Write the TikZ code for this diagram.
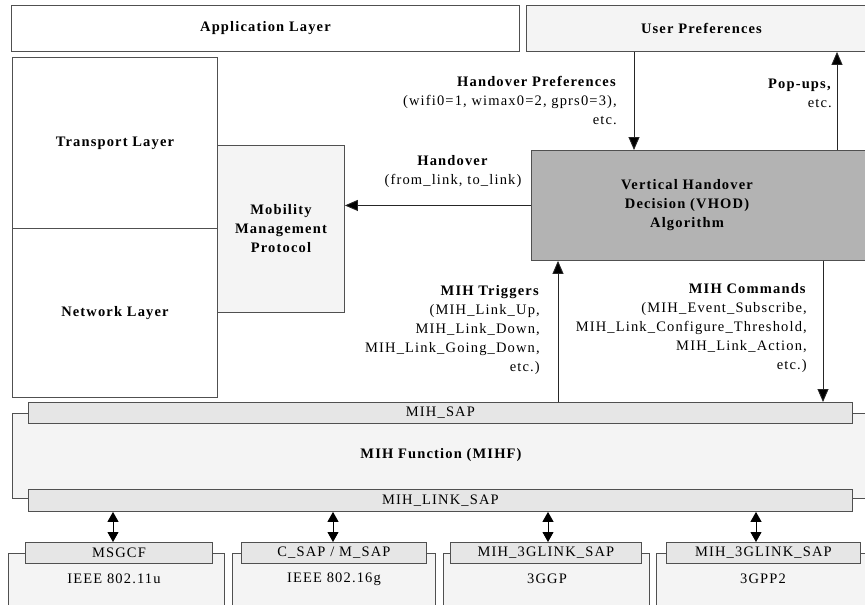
\documentclass[tikz,border=0pt]{standalone}
\usepackage{fontspec}
\setmainfont{Liberation Serif}[LetterSpace=8]
\usetikzlibrary{arrows.meta}
\definecolor{lineg}{HTML}{505050}
\definecolor{lightf}{HTML}{F4F4F4}
\definecolor{sapf}{HTML}{E6E6E6}
\definecolor{vhodf}{HTML}{B3B3B3}
\begin{document}
\begin{tikzpicture}[x=1pt,y=-1pt,
  txt/.style={font=\fontsize{14.5}{19}\selectfont, inner sep=0pt},
  box/.style={draw=lineg, line width=0.9pt, inner sep=0pt, anchor=north west, txt},
  bfont/.style={font=\fontsize{14.5}{19}\selectfont\bfseries},
  conn/.style={line width=0.9pt, draw=black!85, -{Triangle[length=13pt,width=11pt,fill=black]}},
  bidir/.style={line width=0.9pt, draw=black, {Triangle[length=10pt,width=11pt]}-{Triangle[length=10pt,width=11pt]}}
]
\useasboundingbox (0,0) rectangle (865,605);
\clip (0,0) rectangle (865,605);
\fill[white] (0,0) rectangle (865,605);

% top row
\node[box, fill=white, minimum width=508pt, minimum height=46pt, bfont] (app) at (11,5) {Application Layer};
\node[box, fill=lightf, minimum width=350pt, minimum height=46pt, bfont] (upref) at (526,5) {User Preferences};

% left stack
\node[box, fill=white, minimum width=205pt, minimum height=171pt, bfont] (trans) at (12,57) {Transport Layer};
\node[box, fill=white, minimum width=205pt, minimum height=169pt, bfont] (net) at (12,228) {Network Layer};
\node[box, fill=lightf, minimum width=127pt, minimum height=167pt, bfont, align=center] (mob) at (217,145) {Mobility\\Management\\Protocol};

% VHOD
\node[box, fill=vhodf, minimum width=360pt, minimum height=110pt] (vhod) at (531,150) {};
\node[txt, bfont, align=center] (vhodtext) at (687,205) {Vertical Handover\\Decision (VHOD)\\Algorithm};

% MIHF
\node[box, fill=lightf, minimum width=888pt, minimum height=85pt] (mihf) at (12,413) {};
\node[txt, bfont] (mihftext) at (441,455) {MIH Function (MIHF)};
\node[box, fill=sapf, minimum width=824pt, minimum height=21pt] (msap) at (28,402) {MIH\_SAP};
\node[box, fill=sapf, minimum width=824pt, minimum height=22pt] (lsap) at (28,489) {MIH\_LINK\_SAP};

% bottom technologies
\node[box, fill=lightf, minimum width=216pt, minimum height=70pt] (t1) at (8,553) {};
\node[box, fill=lightf, minimum width=203pt, minimum height=70pt] (t2) at (232,553) {};
\node[box, fill=lightf, minimum width=206pt, minimum height=70pt] (t3) at (443,553) {};
\node[box, fill=lightf, minimum width=244pt, minimum height=70pt] (t4) at (656,553) {};
\node[box, fill=sapf, minimum width=187pt, minimum height=21pt] (s1) at (25,542) {MSGCF};
\node[box, fill=sapf, minimum width=185pt, minimum height=21pt] (s2) at (241,542) {C\_SAP / M\_SAP};
\node[box, fill=sapf, minimum width=191pt, minimum height=21pt] (s3) at (450,542) {MIH\_3GLINK\_SAP};
\node[box, fill=sapf, minimum width=194pt, minimum height=21pt] (s4) at (666,542) {MIH\_3GLINK\_SAP};
\node[txt] (t1text) at (114,579) {IEEE 802.11u};
\node[txt] (t2text) at (334,579) {IEEE 802.16g};
\node[txt] (t3text) at (547,579) {3GGP};
\node[txt] (t4text) at (763,579) {3GPP2};

% connectors
\coordinate (xhp) at (634,0);
\coordinate (xpop) at (837,0);
\coordinate (xtrig) at (558,0);
\coordinate (xcmd) at (823,0);
\draw[conn] (upref.south -| xhp) -- (vhod.north -| xhp);
\draw[conn] (vhod.north -| xpop) -- (upref.south -| xpop);
\draw[conn] (vhod.west) -- (vhod.west -| mob.east);
\draw[conn] (msap.north -| xtrig) -- (vhod.south -| xtrig);
\draw[conn] (vhod.south -| xcmd) -- (msap.north -| xcmd);

\coordinate (xb1) at (113,0);
\coordinate (xb2) at (333,0);
\coordinate (xb3) at (548,0);
\coordinate (xb4) at (756,0);
\draw[bidir] (lsap.south -| xb1) -- (s1.north -| xb1);
\draw[bidir] (lsap.south -| xb2) -- (s2.north -| xb2);
\draw[bidir] (lsap.south -| xb3) -- (s3.north -| xb3);
\draw[bidir] (lsap.south -| xb4) -- (s4.north -| xb4);

% labels
\node[txt, align=right, anchor=east] (lhp) at (617,100) {\textbf{Handover Preferences}\\(wifi0=1, wimax0=2, gprs0=3),\\etc.};
\node[txt, align=right, anchor=east] (lpop) at (832,93) {\textbf{Pop-ups,}\\etc.};
\node[txt, align=center] (lho) at (453,172) {\textbf{Handover}\\(from\_link, to\_link)};
\node[txt, align=right, anchor=east] (ltrig) at (540,330) {\textbf{MIH Triggers}\\(MIH\_Link\_Up,\\MIH\_Link\_Down,\\MIH\_Link\_Going\_Down,\\etc.)};
\node[txt, align=right, anchor=east] (lcmd) at (807,328) {\textbf{MIH Commands}\\(MIH\_Event\_Subscribe,\\MIH\_Link\_Configure\_Threshold,\\MIH\_Link\_Action,\\etc.)};
\end{tikzpicture}
\end{document}
